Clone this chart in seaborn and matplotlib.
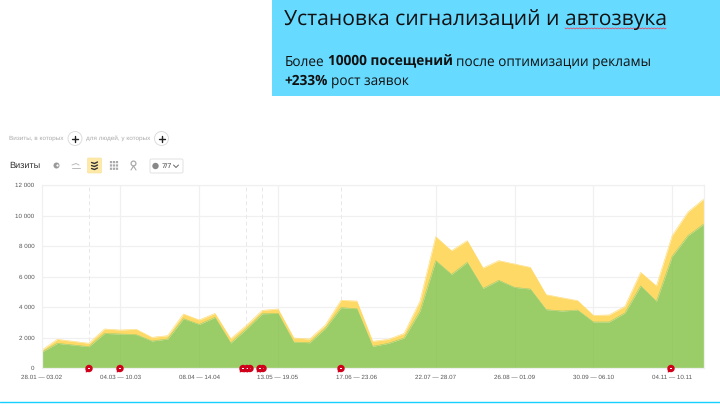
import numpy as np
import pandas as pd
import matplotlib
matplotlib.use("Agg")
import matplotlib.pyplot as plt
from matplotlib.patches import Circle, Rectangle, FancyBboxPatch, Polygon
import seaborn as sns

# Weekly visits: lower band and the stacked total
week_index = list(range(43))
green_visits = [1030, 1620, 1510, 1400, 2270, 2230, 2190, 1770, 1900, 3235, 2860,
                3320, 1640, 2560, 3560, 3580, 1700, 1660, 2600, 3960, 3890, 1420,
                1620, 1970, 3720, 7040, 6140, 6930, 5220, 5750, 5290, 5180, 3830,
                3740, 3800, 3020, 3020, 3610, 5380, 4370, 7320, 8680, 9440]
total_visits = [1160, 1880, 1750, 1620, 2560, 2490, 2540, 2010, 2120, 3540, 3150,
                3580, 1920, 2800, 3780, 3870, 1970, 1900, 2820, 4440, 4390, 1750,
                1880, 2270, 4370, 8610, 7690, 8350, 6560, 7040, 6820, 6600, 4810,
                4610, 4420, 3450, 3480, 4040, 6270, 5380, 8680, 10230, 11080]
tick_weeks = [0, 5, 10, 15, 20, 25, 30, 35, 40]
tick_labels = ["28.01 — 03.02", "04.03 — 10.03", "08.04 — 14.04", "13.05 — 19.05",
               "17.06 — 23.06", "22.07 — 28.07", "26.08 — 01.09", "30.09 — 06.10",
               "04.11 — 10.11"]
solid_weeks = [5, 10, 15, 25, 30, 35, 40]
dashed_weeks = [3, 13, 14, 19]
y_ticks = [0, 2000, 4000, 6000, 8000, 10000, 12000]
y_labels = ["0", "2 000", "4 000", "6 000", "8 000", "10 000", "12 000"]
annotation_px = [89, 120, 250, 247, 243, 263, 260, 341, 671]

GREEN = "#9ACD68"
YELLOW = "#FFD966"
GRID = "#F0F0F0"
LABEL = "#555555"
UI_FONT = "Liberation Sans"
HEAD_FONT = "Open Sans"

sns.set_theme(style="white")
plt.rcParams["text.hinting"] = "no_hinting"
W, H = 720, 409
fig = plt.figure(figsize=(W / 100, H / 100), dpi=100, facecolor="white")

ax = fig.add_axes([41.5 / W, (H - 368) / H, 662.2 / W, 183 / H])
frame = pd.DataFrame({"week": week_index, "green": green_visits, "total": total_visits})
ax.fill_between(frame["week"], frame["green"], frame["total"], color=YELLOW, lw=0, zorder=2)
ax.fill_between(frame["week"], 0, frame["green"], color=GREEN, lw=0, zorder=2)
sns.lineplot(data=frame, x="week", y="total", color=YELLOW, lw=0.4, ax=ax, zorder=2)
sns.lineplot(data=frame, x="week", y="green", color=GREEN, lw=0.4, ax=ax, zorder=2)

ax.set_xlim(0, 42)
ax.set_ylim(0, 12000)
ax.set_xlabel("")
ax.set_ylabel("")
ax.set_yticks(y_ticks, y_labels, fontsize=4.5, color=LABEL, family=UI_FONT)
ax.set_xticks(tick_weeks, tick_labels, fontsize=4.5, color=LABEL, family=UI_FONT)
ax.tick_params(axis="both", length=0)
ax.tick_params(axis="y", pad=5.2)
ax.tick_params(axis="x", pad=5.0)
ax.grid(True, axis="y", color=GRID, lw=0.9, zorder=1)
ax.set_axisbelow(True)
for week in solid_weeks:
    ax.axvline(week, color=GRID, lw=0.9, zorder=1)
    ax.axvline(week, color="#8AB85E", lw=0.4, alpha=0.25, ymax=frame["green"][week] / 12000, zorder=3)
for week in dashed_weeks:
    ax.axvline(week, color="#E8E8E8", lw=0.7, ls=(0, (4, 3)), zorder=1)
for spine in ax.spines.values():
    spine.set_color(GRID)
    spine.set_linewidth(0.9)

# Overlay in pixel coordinates for the header panel and the toolbar
ui = fig.add_axes([0, 0, 1, 1], facecolor="none")
ui.set_xlim(0, W)
ui.set_ylim(H, 0)
ui.axis("off")

ui.add_patch(Rectangle((272, 0), 448, 96, color="#66DAFF", lw=0))
ui.plot([0, W], [402, 402], color="#14CFFF", lw=1.0)

ui.text(284.5, 20, "Установка сигнализаций и автозвука", fontsize=15.2,
        family=HEAD_FONT, color="#111111", va="center")
wave_x = np.linspace(565, 666, 120)
ui.plot(wave_x, 28.4 + 0.5 * np.sin(wave_x * 2.1), color="#E0506A", lw=0.6)


def run_text(x, y, parts, size):
    """Place regular and bold fragments one after another on a line."""
    renderer = fig.canvas.get_renderer()
    for content, weight in parts:
        t = ui.text(x, y, content, fontsize=size, family=HEAD_FONT, weight=weight,
                    color="#111111", va="center")
        box = t.get_window_extent(renderer)
        x += box.width + size * 0.36


run_text(284.5, 62, [("Более", "normal"), ("10000 посещений", "bold"),
                     ("после оптимизации рекламы", "normal")], 9.8)
run_text(284.5, 81, [("+233%", "bold"), ("рост заявок", "normal")], 9.8)

# Filter row
ui.text(9, 138, "Визиты, в которых", fontsize=4.6, color="#AAAAAA", family=UI_FONT, va="center")
ui.text(86, 138, "для людей, у которых", fontsize=4.6, color="#AAAAAA", family=UI_FONT, va="center")
for cx in (75, 161.5):
    ui.add_patch(Circle((cx, 138.5), 7, fc="white", ec="#DDDDDD", lw=0.7))
    ui.plot([cx - 3, cx + 3], [138.5, 138.5], color="#222222", lw=1.0)
    ui.plot([cx, cx], [135.5, 141.5], color="#222222", lw=1.0)

# Toolbar row
ui.text(9, 165.5, "Визиты", fontsize=6.6, color="#333333", family=UI_FONT, va="center")
ui.add_patch(Circle((56.5, 165.5), 3, fc="#999999", lw=0))
ui.add_patch(Circle((57.5, 165.5), 1.1, fc="white", lw=0))
ui.plot([72, 76, 79], [165, 163.5, 165], color="#BBBBBB", lw=0.7)
ui.plot([72, 80], [167.5, 167.5], color="#BBBBBB", lw=0.7)
ui.add_patch(FancyBboxPatch((87.5, 158), 14, 15, boxstyle="round,pad=0,rounding_size=1",
                            fc="#FFE9A6", ec="#F7E3A8", lw=0.5))
for offset in (-3, 0, 3):
    ui.plot([91.5, 94.5, 97.5], [165.5 + offset, 165.5 + offset + 1, 165.5 + offset - 0.5],
            color="#333333", lw=1.0)
for col in (111, 114, 117):
    ui.plot([col, col], [161, 170], color="#AAAAAA", lw=1.6, ls=(0, (1, 0.5)))
ui.add_patch(Circle((133.5, 163.5), 2.4, fc="none", ec="#AAAAAA", lw=0.9))
ui.plot([131, 133.5, 136], [170, 166, 170], color="#AAAAAA", lw=0.8)
ui.add_patch(FancyBboxPatch((150, 159), 33, 14, boxstyle="round,pad=0,rounding_size=1.5",
                            fc="white", ec="#E2E2E2", lw=0.7))
ui.add_patch(Circle((155.5, 166), 3.2, fc="#888888", lw=0))
ui.text(162, 165.8, "7/7", fontsize=5.4, color="#444444", family=UI_FONT, va="center")
ui.plot([173.5, 176, 178.5], [165, 167.5, 165], color="#666666", lw=0.7)

# Annotation pins along the baseline
for px in annotation_px:
    ui.add_patch(Polygon([(px - 3.2, 369), (px + 0.5, 371.5), (px - 3.2, 372.5)], fc="#D0021B", lw=0, zorder=5))
    ui.add_patch(Circle((px, 368.5), 3.7, fc="#D0021B", lw=0, zorder=5))
    ui.add_patch(Rectangle((px - 0.8, 367.7), 1.6, 1.6, fc="white", lw=0, zorder=5))

fig.savefig("out.png", dpi=100)
